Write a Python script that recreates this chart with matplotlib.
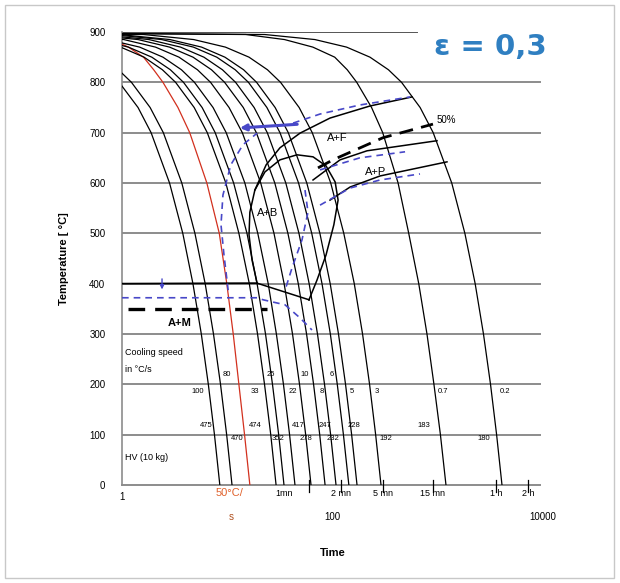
import matplotlib.pyplot as plt
from matplotlib.patches import Rectangle
from matplotlib.ticker import NullLocator

plt.rcParams['font.family'] = ['Liberation Sans', 'DejaVu Sans']

# temperatures (°C) at which the cooling curves were read
curve_temps = [900, 895, 885, 870, 850, 825, 800, 750, 700, 600, 500, 400, 300, 200, 100, 0]

# time (s) at each of curve_temps, one row per cooling curve (fast -> slow)
cooling_times = [
    [0.01, 0.047, 0.142, 0.283, 0.47, 0.71, 0.94, 1.42, 1.89, 2.83, 3.78, 4.72, 5.67, 6.61, 7.56, 8.5],
    [0.01, 0.062, 0.185, 0.37, 0.62, 0.925, 1.23, 1.85, 2.47, 3.7, 4.93, 6.17, 7.4, 8.63, 9.87, 11.1],
    [0.01, 0.3, 0.8, 1.15, 1.6, 2.0, 2.45, 3.4, 4.4, 6.4, 8.4, 9.9, 11.4, 12.9, 14.6, 16.4],
    [0.01, 0.16, 0.49, 0.97, 1.62, 2.42, 3.23, 4.85, 6.46, 9.7, 12.9, 16.2, 19.4, 22.6, 25.9, 29.1],
    [0.01, 0.19, 0.58, 1.15, 1.92, 2.88, 3.84, 5.77, 7.68, 11.5, 15.4, 19.2, 23.1, 26.9, 30.8, 34.6],
    [0.01, 0.24, 0.73, 1.47, 2.45, 3.67, 4.88, 7.33, 9.77, 14.7, 19.5, 24.5, 29.3, 34.2, 39.1, 44],
    [0.01, 0.35, 1.04, 2.08, 3.48, 5.21, 6.94, 10.4, 13.9, 20.8, 27.8, 34.7, 41.7, 48.6, 55.6, 62.5],
    [0.01, 0.47, 1.42, 2.83, 4.73, 7.08, 9.44, 14.2, 18.9, 28.3, 37.7, 47.3, 56.7, 66.1, 75.6, 85],
    [0.01, 0.6, 1.8, 3.6, 6.0, 9.0, 12.0, 18.0, 24.0, 36.0, 48.0, 60.0, 72.0, 84.0, 96.0, 108],
    [0.01, 0.8, 2.38, 4.77, 7.95, 11.9, 15.9, 23.8, 31.7, 47.6, 63.5, 79.5, 95.4, 111, 127, 143],
    [0.01, 0.95, 2.85, 5.7, 9.5, 14.3, 19.0, 28.5, 38.0, 57.0, 75.9, 95.1, 114, 133, 152, 171],
    [0.01, 1.6, 4.8, 9.6, 16.1, 24.1, 32.1, 48.2, 64.2, 96.2, 128, 161, 193, 225, 257, 289],
    [0.01, 15, 35, 65, 105, 138, 170, 235, 300, 420, 530, 660, 790, 920, 1060, 1197],
    [0.01, 22.7, 68, 136, 227, 340, 453, 680, 905, 1358, 1810, 2267, 2719, 3172, 3624, 4077],
]
red_curve = 2  # the 50 °C/s curve

# cooling speed labels (°C/s) and where they sit
speed_labels = ["100", "80", "33", "25", "22", "10", "8", "6", "5", "3", "0.7", "0.2"]
speed_t = [5.27, 9.95, 18.4, 26.1, 42.2, 54.8, 79.5, 98.9, 153, 265, 1122, 4355]
speed_T = [185, 219, 185, 219, 185, 219, 185, 219, 185, 185, 185, 185]

# hardness HV(10 kg)
hv_labels = ["475", "474", "417", "247", "228", "183", "470", "352", "278", "232", "192", "180"]
hv_t = [6.28, 18.4, 47, 85, 160, 740, 12.4, 30.3, 56, 100, 322, 2750]
hv_T = [119, 119, 119, 119, 119, 119, 93, 93, 93, 93, 93, 93]

# transformation lines, deformed (black)
bainite_t = [59.8, 19.2, 17.2, 16.1, 16.4, 18.3, 22.8, 31.7, 46, 65.3, 86.8, 106, 113, 103, 86.8, 71.2, 59.8]
bainite_T = [368, 401, 447, 497, 542, 586, 622, 646, 656, 652, 634, 602, 566, 517, 457, 407, 368]
ferrite_t = [18.3, 23.4, 31.7, 49.1, 94.7, 227, 569]
ferrite_T = [586, 636, 670, 699, 729, 753, 771]
ms_t = [1, 19.2]
ms_T = [400, 401]
f50_t = [72.8, 101, 302, 901]
f50_T = [630, 646, 690, 717]
pearl_s_t = [65.3, 118, 213, 984]
pearl_s_T = [606, 646, 664, 684]
pearl_f_t = [94.7, 147, 283, 1224]
pearl_f_T = [566, 592, 614, 642]
m50_t = [1.14, 23.9]
m50_T = [350, 350]

# transformation lines, undeformed (blue dashed)
b_ferrite_t = [42.2, 76.1, 182, 545]
b_ferrite_T = [719, 737, 755, 771]
b_left_t = [10.2, 9.31, 8.72, 9.1, 10.8, 14.1, 19.2]
b_left_T = [387, 457, 517, 576, 636, 676, 699]
b_ms_t = [1, 19.2, 21.9, 35.4, 49.1, 63.8]
b_ms_T = [372, 372, 368, 358, 332, 308]
b_right_t = [54.8, 58.5, 51.3, 41.2, 35.4]
b_right_T = [586, 542, 487, 431, 387]
b_p1_t = [76.1, 182, 489]
b_p1_T = [626, 650, 662]
b_p2_t = [76.1, 147, 283, 678]
b_p2_T = [556, 590, 606, 618]

# time marks under the axis
mark_t = [60, 120, 300, 900, 3600, 7200]
mark_labels = ["1mn", "2 mn", "5 mn", "15 mn", "1 h", "2 h"]

grid_levels = [100, 200, 300, 400, 500, 600, 700, 800]

BLUE = "#4848c8"
RED = "#d2301e"

fig = plt.figure(figsize=(6.2, 5.83), dpi=100)
fig.patches.append(Rectangle((0.008, 0.009), 0.982, 0.982, transform=fig.transFigure,
                             fill=False, edgecolor="#c8c8c8", lw=1))
ax = fig.add_axes([122 / 620, 1 - 485 / 583, 421 / 620, 453 / 583])
ax.set_xscale("log")
ax.set_xlim(1, 10000)
ax.set_ylim(0, 900)

for lev in grid_levels:
    ax.plot([1, 9400], [lev, lev], color="#8c8c8c", lw=1.4, zorder=1)
ax.plot([1, 635], [900, 900], color="#555555", lw=1.4, zorder=1)
ax.plot([1, 9400], [0, 0], color="#8c8c8c", lw=1.4, zorder=1, clip_on=False)

for i, times in enumerate(cooling_times):
    c = RED if i == red_curve else "black"
    ax.plot(times, curve_temps, color=c, lw=0.9, zorder=3)

for t, T, s in zip(speed_t, speed_T, speed_labels):
    ax.text(t, T, s, fontsize=5.5, ha="center", va="center", zorder=4)
for t, T, s in zip(hv_t, hv_T, hv_labels):
    ax.text(t, T, s, fontsize=5.5, ha="center", va="center", zorder=4)

# black (deformed) lines
ax.plot(bainite_t, bainite_T, color="black", lw=1.1, zorder=5)
ax.plot(ferrite_t, ferrite_T, color="black", lw=1.1, zorder=5)
ax.plot(ms_t, ms_T, color="black", lw=1.3, zorder=5)
ax.plot(pearl_s_t, pearl_s_T, color="black", lw=1.1, zorder=5)
ax.plot(pearl_f_t, pearl_f_T, color="black", lw=1.1, zorder=5)
ax.plot(f50_t, f50_T, color="black", lw=2.0, dashes=(5, 3), zorder=5)
ax.plot(m50_t, m50_T, color="black", lw=2.4, dashes=(5, 3), zorder=5)

# blue (undeformed) lines
for bt, bT in [(b_ferrite_t, b_ferrite_T), (b_left_t, b_left_T), (b_ms_t, b_ms_T),
               (b_right_t, b_right_T), (b_p1_t, b_p1_T), (b_p2_t, b_p2_T)]:
    ax.plot(bt, bT, color=BLUE, lw=1.2, dashes=(4, 3), zorder=6)
ax.annotate("", xy=(12.4, 709), xytext=(49.1, 717),
            arrowprops=dict(arrowstyle="-|>", color=BLUE, lw=2.2, mutation_scale=9), zorder=6)
ax.annotate("", xy=(2.4, 383), xytext=(2.4, 415),
            arrowprops=dict(arrowstyle="-|>", color=BLUE, lw=1.0, mutation_scale=6), zorder=6)

# region labels
ax.text(110, 690, "A+F", fontsize=8, ha="center", va="center", zorder=7)
ax.text(259, 622, "A+P", fontsize=8, ha="center", va="center", zorder=7)
ax.text(24.4, 540, "A+B", fontsize=8, ha="center", va="center", zorder=7)
ax.text(3.56, 322, "A+M", fontsize=8, fontweight="bold", ha="center", va="center", zorder=7)
ax.text(1197, 725, "50%", fontsize=7, ha="center", va="center", zorder=7)
ax.text(1.07, 264, "Cooling speed", fontsize=6.5, ha="left", va="center", zorder=7)
ax.text(1.07, 229, "in °C/s", fontsize=6.5, ha="left", va="center", zorder=7)
ax.text(1.07, 54, "HV (10 kg)", fontsize=6.5, ha="left", va="center", zorder=7)

# title
fig.text(490 / 620, 1 - 47 / 583, "ε = 0,3", fontsize=21, fontweight="bold",
         color="#2f7fc1", ha="center", va="center", family=["DejaVu Sans"])

# x axis annotations
tr = ax.get_xaxis_transform()
for t, s in zip(mark_t, mark_labels):
    ax.plot([t, t], [-0.015, 0.012], color="black", lw=0.9, transform=tr, clip_on=False)
    dx = -18 if s == "1mn" else 0
    ax.annotate(s, (t, -0.018), xycoords=tr, xytext=(dx, 0), textcoords="offset points",
                fontsize=6.5, ha="center", va="center")
ax.text(1, -0.027, "1", fontsize=7, ha="center", va="center", transform=tr)
ax.text(100, -0.071, "100", fontsize=7, ha="center", va="center", transform=tr)
ax.text(10000, -0.071, "10000", fontsize=7, ha="center", va="center", transform=tr)
ax.text(10.5, -0.018, "50°C/", fontsize=8, color="#e0602a", ha="center", va="center", transform=tr)
ax.text(10.9, -0.071, "s", fontsize=7, color="#b0501e", ha="center", va="center", transform=tr)

ax.set_xticks([])
ax.xaxis.set_minor_locator(NullLocator())
ax.set_yticks(range(0, 1000, 100))
ax.tick_params(axis="y", length=0, pad=12, labelsize=7)
for sp in ["top", "right", "bottom"]:
    ax.spines[sp].set_visible(False)
ax.spines["left"].set_color("#8c8c8c")
ax.spines["left"].set_linewidth(1.2)

ax.set_ylabel("Temperature [ °C]", fontsize=8, fontweight="bold")
ax.yaxis.set_label_coords(-0.125, 0.5)
ax.set_xlabel("Time", fontsize=8, fontweight="bold")
ax.xaxis.set_label_coords(0.5, -0.139)

fig.savefig("out.png", dpi=100)
